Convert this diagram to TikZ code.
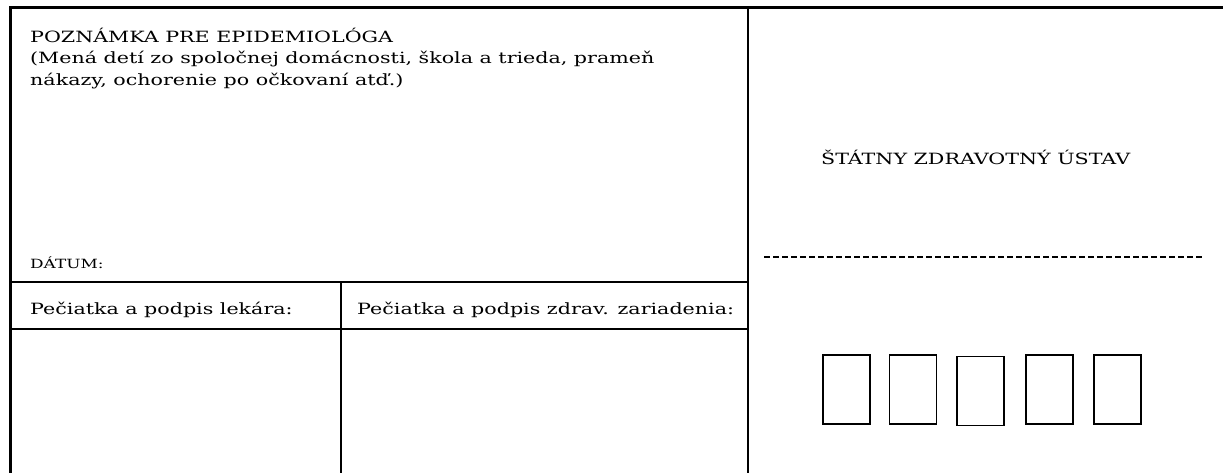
\documentclass[tikz,border=0pt]{standalone}
\usepackage{fontspec}
\setmainfont{DejaVu Serif}[FakeStretch=1.33]
\begin{document}
\begin{tikzpicture}[x=1pt,y=-1pt,
  frame/.style={line width=3pt},
  rule/.style={line width=2.3pt},
  txt/.style={anchor=base west, inner sep=0pt, font=\fontsize{15.5}{20}\selectfont},
  small/.style={anchor=base west, inner sep=0pt, font=\fontsize{12.7}{16}\selectfont},
  digit/.style={draw, line width=1.5pt, inner sep=0pt, minimum width=47pt, minimum height=69pt}]
\useasboundingbox (0,0) rectangle (1223,473);
% frame coordinates
\coordinate (tl) at (10,8);
\coordinate (tr) at (1223,8);
\coordinate (bl) at (10,473);
\coordinate (vt) at (748,8);
\coordinate (vb) at (748,473);
\coordinate (h1l) at (10,282);
\coordinate (h1r) at (748,282);
\coordinate (h2l) at (10,329);
\coordinate (h2r) at (748,329);
\coordinate (mt) at (341,282);
\coordinate (mb) at (341,473);
\coordinate (dl) at (764,257);
\coordinate (dr) at (1202,257);
\draw[frame] (bl) -- (tl) -- (tr);
\draw[rule] (vt) -- (vb);
\draw[rule] (h1l) -- (h1r);
\draw[rule] (h2l) -- (h2r);
\draw[rule] (mt) -- (mb);
\draw[line width=1.4pt, dash pattern=on 6pt off 3pt] (dl) -- (dr);
% texts
\node[txt] (t1) at (30,42.5) {POZNÁMKA PRE EPIDEMIOLÓGA};
\node[txt] (t2) at (30,64) {(Mená detí zo spoločnej domácnosti, škola a trieda, prameň};
\node[txt] (t3) at (30,85.5) {nákazy, ochorenie po očkovaní atď.)};
\node[small] (dat) at (30,268) {DÁTUM:};
\node[txt] (p1) at (30,314) {Pečiatka a podpis lekára:};
\node[txt] (p2) at (357,314) {Pečiatka a podpis zdrav. zariadenia:};
\node[txt] (szu) at (821,165) {ŠTÁTNY ZDRAVOTNÝ ÚSTAV};
% digit boxes
\node[digit] (d1) at (846.5,389.5) {};
\node[digit] (d2) at (913,389.5) {};
\node[digit] (d3) at (980.5,391) {};
\node[digit] (d4) at (1049.5,389.5) {};
\node[digit] (d5) at (1117.5,389.5) {};
\end{tikzpicture}
\end{document}
